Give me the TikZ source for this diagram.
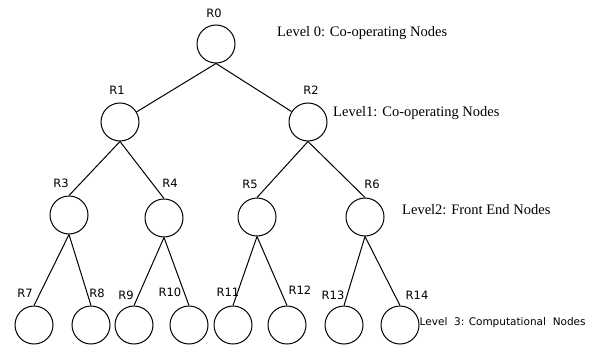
\documentclass[tikz,border=0pt]{standalone}
\usepackage{fontspec}
\setmainfont{Liberation Serif}
\setsansfont{DejaVu Sans}
\usetikzlibrary{positioning}
\begin{document}
\begin{tikzpicture}[x=1pt,y=-1pt,
  rnode/.style={circle,draw,line width=1pt,minimum size=38pt,inner sep=0pt},
  rname/.style={font=\sffamily\fontsize{11.5}{11.5}\selectfont,inner sep=0pt},
  leveltext/.style={font=\fontsize{14.5}{14.5}\selectfont,anchor=west,inner sep=0pt},
  link/.style={line width=1pt}]
\useasboundingbox (0,0) rectangle (604,345);

% Level 0
\node[rnode] (R0) at (216,44) {};
\node[rname] (nR0) at (214,13) {R0};

% Level 1
\node[rnode] (R1) at (120,122) {};
\node[rnode] (R2) at (308,122) {};
\node[rname] (nR1) at (117,90) {R1};
\node[rname] (nR2) at (311,90) {R2};

% Level 2
\node[rnode] (R3) at (69,215) {};
\node[rnode] (R4) at (164,218) {};
\node[rnode] (R5) at (257,217) {};
\node[rnode] (R6) at (365,217) {};
\node[rname] (nR3) at (61,183) {R3};
\node[rname] (nR4) at (170,183) {R4};
\node[rname] (nR5) at (250,184) {R5};
\node[rname] (nR6) at (372,184) {R6};

% Level 3
\node[rnode] (R7) at (34,325) {};
\node[rnode] (R8) at (91,325) {};
\node[rnode] (R9) at (134,325) {};
\node[rnode] (R10) at (189,325) {};
\node[rnode] (R11) at (233,325) {};
\node[rnode] (R12) at (287,325) {};
\node[rnode] (R13) at (344,325) {};
\node[rnode] (R14) at (400,325) {};
\node[rname] (nR7) at (25,293) {R7};
\node[rname] (nR8) at (97,293) {R8};
\node[rname] (nR9) at (126,295) {R9};
\node[rname] (nR10) at (170,292) {R10};
\node[rname] (nR11) at (228,292) {R11};
\node[rname] (nR12) at (300,290) {R12};
\node[rname] (nR13) at (333,295) {R13};
\node[rname] (nR14) at (417,295) {R14};

% Links between levels
\draw[link] (R0.south) -- (R1);
\draw[link] (R0.south) -- (R2);
\draw[link] (R1.south) -- (R3.north);
\draw[link] (R1.south) -- (R4.north);
\draw[link] (R2.south) -- (R5.north);
\draw[link] (R2.south) -- (R6.north);
\draw[link] (R3.south) -- (R7.north);
\draw[link] (R3.south) -- (R8.north);
\draw[link] (R4.south) -- (R9.north);
\draw[link] (R4.south) -- (R10.north);
\draw[link] (R5.south) -- (R11.north);
\draw[link] (R5.south) -- (R12.north);
\draw[link] (R6.south) -- (R13.north);
\draw[link] (R6.south) -- (R14.north);

% Level descriptions
\node[leveltext] (L0) at (277,33) {Level 0: Co-operating Nodes};
\node[leveltext] (L1) at (333,113) {Level1: Co-operating Nodes};
\node[leveltext] (L2) at (402,210) {Level2: Front End Nodes};
\node[leveltext,font=\sffamily\fontsize{10.5}{10.5}\selectfont,right=0pt of R14.east,yshift=2pt] (L3) {Level\ \ 3: Computational\ \ Nodes};
\end{tikzpicture}
\end{document}
